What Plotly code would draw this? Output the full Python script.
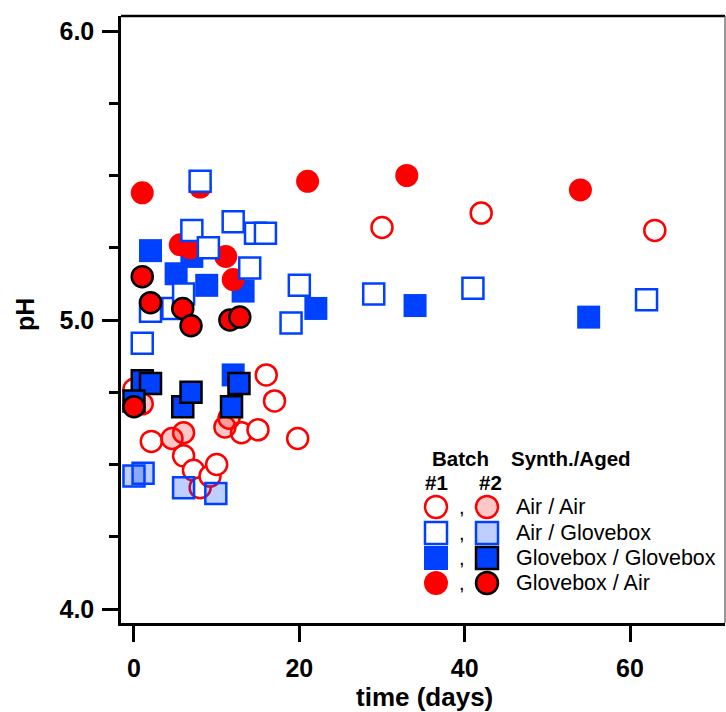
import plotly.graph_objects as go

# ---------------- data (time in days, pH) ----------------
b1_air_air_t = [0, 2.1, 6, 7.2, 8, 9.2, 10, 13, 15, 16, 17, 19.8, 30, 42, 63]
b1_air_air_ph = [4.76, 4.58, 4.53, 4.48, 4.42, 4.46, 4.50, 4.61, 4.62, 4.81, 4.72, 4.59, 5.32, 5.37, 5.31]

b1_air_gb_t = [8, 7, 12, 14.7, 15.9, 9, 14, 2, 4.7, 6, 1, 19, 20, 29, 41, 62]
b1_air_gb_ph = [5.48, 5.31, 5.34, 5.30, 5.30, 5.25, 5.18, 5.03, 5.04, 5.09, 4.92, 4.99, 5.12, 5.09, 5.11, 5.07]

b1_gb_gb_t = [2, 5.1, 7, 8.8, 13.2, 22, 34, 55, 12]
b1_gb_gb_ph = [5.24, 5.16, 5.22, 5.12, 5.10, 5.04, 5.05, 5.01, 4.81]

b1_gb_air_t = [1, 8, 5.6, 6.8, 11.1, 12, 21, 33, 54]
b1_gb_air_ph = [5.44, 5.46, 5.26, 5.25, 5.22, 5.14, 5.48, 5.50, 5.45]

b2_air_air_t = [1, 4.6, 6, 11, 11.5]
b2_air_air_ph = [4.71, 4.59, 4.61, 4.63, 4.66]

b2_air_gb_t = [0, 1.1, 6, 9.9]
b2_air_gb_ph = [4.46, 4.47, 4.42, 4.40]

b2_gb_gb_t = [1, 2, 0, 5.9, 6.9, 11.8, 12.7]
b2_gb_gb_ph = [4.79, 4.78, 4.72, 4.70, 4.75, 4.70, 4.78]

b2_gb_air_t = [1, 2, 5.9, 6.9, 11.6, 12.8, 0]
b2_gb_air_ph = [5.15, 5.06, 5.04, 4.98, 5.00, 5.01, 4.70]

legend_labels = ["Air / Air", "Air / Glovebox", "Glovebox / Glovebox", "Glovebox / Air"]
x_ticks = [0, 20, 40, 60]
y_ticks = [4.0, 5.0, 6.0]

RED = "#ff0000"
BLUE = "#0040ff"
PINK = "rgba(255,0,0,0.22)"
LBLUE = "rgba(0,64,255,0.26)"
FONT = "Liberation Sans"

styles = {
    "b1_gb_gb": dict(symbol="square", size=23, color=BLUE, line=dict(width=0)),
    "b1_gb_air": dict(symbol="circle", size=23, color=RED, line=dict(width=0)),
    "b1_air_air": dict(symbol="circle", size=21, color="white", line=dict(width=2.5, color=RED)),
    "b1_air_gb": dict(symbol="square", size=21, color="white", line=dict(width=2.5, color=BLUE)),
    "b2_air_air": dict(symbol="circle", size=21, color=PINK, line=dict(width=2.5, color=RED)),
    "b2_air_gb": dict(symbol="square", size=21, color=LBLUE, line=dict(width=2.5, color=BLUE)),
    "b2_gb_gb": dict(symbol="square", size=21, color=BLUE, line=dict(width=2.5, color="black")),
    "b2_gb_air": dict(symbol="circle", size=21, color=RED, line=dict(width=2.5, color="black")),
}

series = [
    ("b1_gb_gb", b1_gb_gb_t, b1_gb_gb_ph),
    ("b1_gb_air", b1_gb_air_t, b1_gb_air_ph),
    ("b1_air_air", b1_air_air_t, b1_air_air_ph),
    ("b1_air_gb", b1_air_gb_t, b1_air_gb_ph),
    ("b2_air_air", b2_air_air_t, b2_air_air_ph),
    ("b2_air_gb", b2_air_gb_t, b2_air_gb_ph),
    ("b2_gb_gb", b2_gb_gb_t, b2_gb_gb_ph),
    ("b2_gb_air", b2_gb_air_t, b2_gb_air_ph),
]

fig = go.Figure()
for key, t, ph in series:
    fig.add_trace(go.Scatter(x=t, y=ph, mode="markers", marker=styles[key],
                             showlegend=False, hoverinfo="skip"))

# ---------------- custom legend on an overlay axis (0..1 of plot area) ----------------
W, H = 726, 712
L, R, T, B = 121, 1, 16, 89
PW, PH = W - L - R, H - T - B

def px(xp):
    return (xp - L) / PW

def py(yp):
    return (H - B - yp) / PH

rows_y = [507, 533, 558, 583]
col1_x, col2_x = 436, 487
leg1 = ["b1_air_air", "b1_air_gb", "b1_gb_gb", "b1_gb_air"]
leg2 = ["b2_air_air", "b2_air_gb", "b2_gb_gb", "b2_gb_air"]
for i, ry in enumerate(rows_y):
    for key, cx in ((leg1[i], col1_x), (leg2[i], col2_x)):
        m = dict(styles[key])
        m["size"] = m["size"] + 1
        fig.add_trace(go.Scatter(x=[px(cx)], y=[py(ry)], mode="markers", marker=m,
                                 xaxis="x2", yaxis="y2", showlegend=False,
                                 hoverinfo="skip", cliponaxis=False))

annotations = []
for i, ry in enumerate(rows_y):
    annotations.append(dict(x=px(462), y=py(ry), xref="paper", yref="paper",
                            text=",", showarrow=False, xanchor="center", yanchor="middle",
                            font=dict(family=FONT, size=20, color="black")))
    annotations.append(dict(x=px(514), y=py(ry), xref="paper", yref="paper",
                            text=legend_labels[i], showarrow=False, xanchor="left", yanchor="middle",
                            font=dict(family=FONT, size=21.5, color="black")))
for txt, cx, cy in (("Batch", 460, 458), ("Synth./Aged", 571, 458), ("#1", 436, 483), ("#2", 490, 483)):
    annotations.append(dict(x=px(cx), y=py(cy), xref="paper", yref="paper", text=txt,
                            showarrow=False, xanchor="center", yanchor="middle",
                            font=dict(family=FONT, size=20.5, color="black", weight="bold")))
# axis titles
annotations.append(dict(x=px(424), y=py(697), xref="paper", yref="paper", text="time (days)",
                        showarrow=False, xanchor="center", yanchor="middle",
                        font=dict(family=FONT, size=26, color="black", weight="bold")))
annotations.append(dict(x=px(25), y=py(315), xref="paper", yref="paper", text="pH", textangle=-90,
                        showarrow=False, xanchor="center", yanchor="middle",
                        font=dict(family=FONT, size=25, color="black", weight="bold")))

shapes = [
    dict(type="line", xref="paper", yref="paper", x0=0, x1=1, y0=1, y1=1,
         line=dict(color="black", width=2.5)),
    dict(type="line", xref="paper", yref="paper", x0=1, x1=1, y0=0, y1=1,
         line=dict(color="#555555", width=1.2)),
]

tickfont = dict(family=FONT, size=25, color="black", weight="bold")
fig.update_layout(
    width=W, height=H,
    margin=dict(l=L, r=R, t=T, b=B, pad=0),
    paper_bgcolor="white", plot_bgcolor="white",
    showlegend=False,
    xaxis=dict(range=[-1.57, 71.49], tickvals=x_ticks, ticktext=[str(v) for v in x_ticks],
               showgrid=False, zeroline=False, showline=True, linecolor="black", linewidth=2.5,
               ticks="outside", ticklen=16, tickwidth=2.5, tickcolor="black",
               tickfont=tickfont, ticklabelstandoff=5),
    yaxis=dict(range=[3.9516, 6.0519], tickvals=y_ticks, ticktext=[f"{v:.1f}" for v in y_ticks],
               showgrid=False, zeroline=False, showline=True, linecolor="black", linewidth=2.5,
               ticks="outside", ticklen=16, tickwidth=2.5, tickcolor="black",
               tickfont=tickfont, ticklabelstandoff=3,
               minor=dict(dtick=0.25, tick0=4.0, ticks="outside", ticklen=9, tickwidth=2.5,
                          tickcolor="black", showgrid=False)),
    xaxis2=dict(overlaying="x", range=[0, 1], visible=False, anchor="y2"),
    yaxis2=dict(overlaying="y", range=[0, 1], visible=False, anchor="x2"),
    annotations=annotations,
    shapes=shapes,
)

fig.write_html("out.html")
